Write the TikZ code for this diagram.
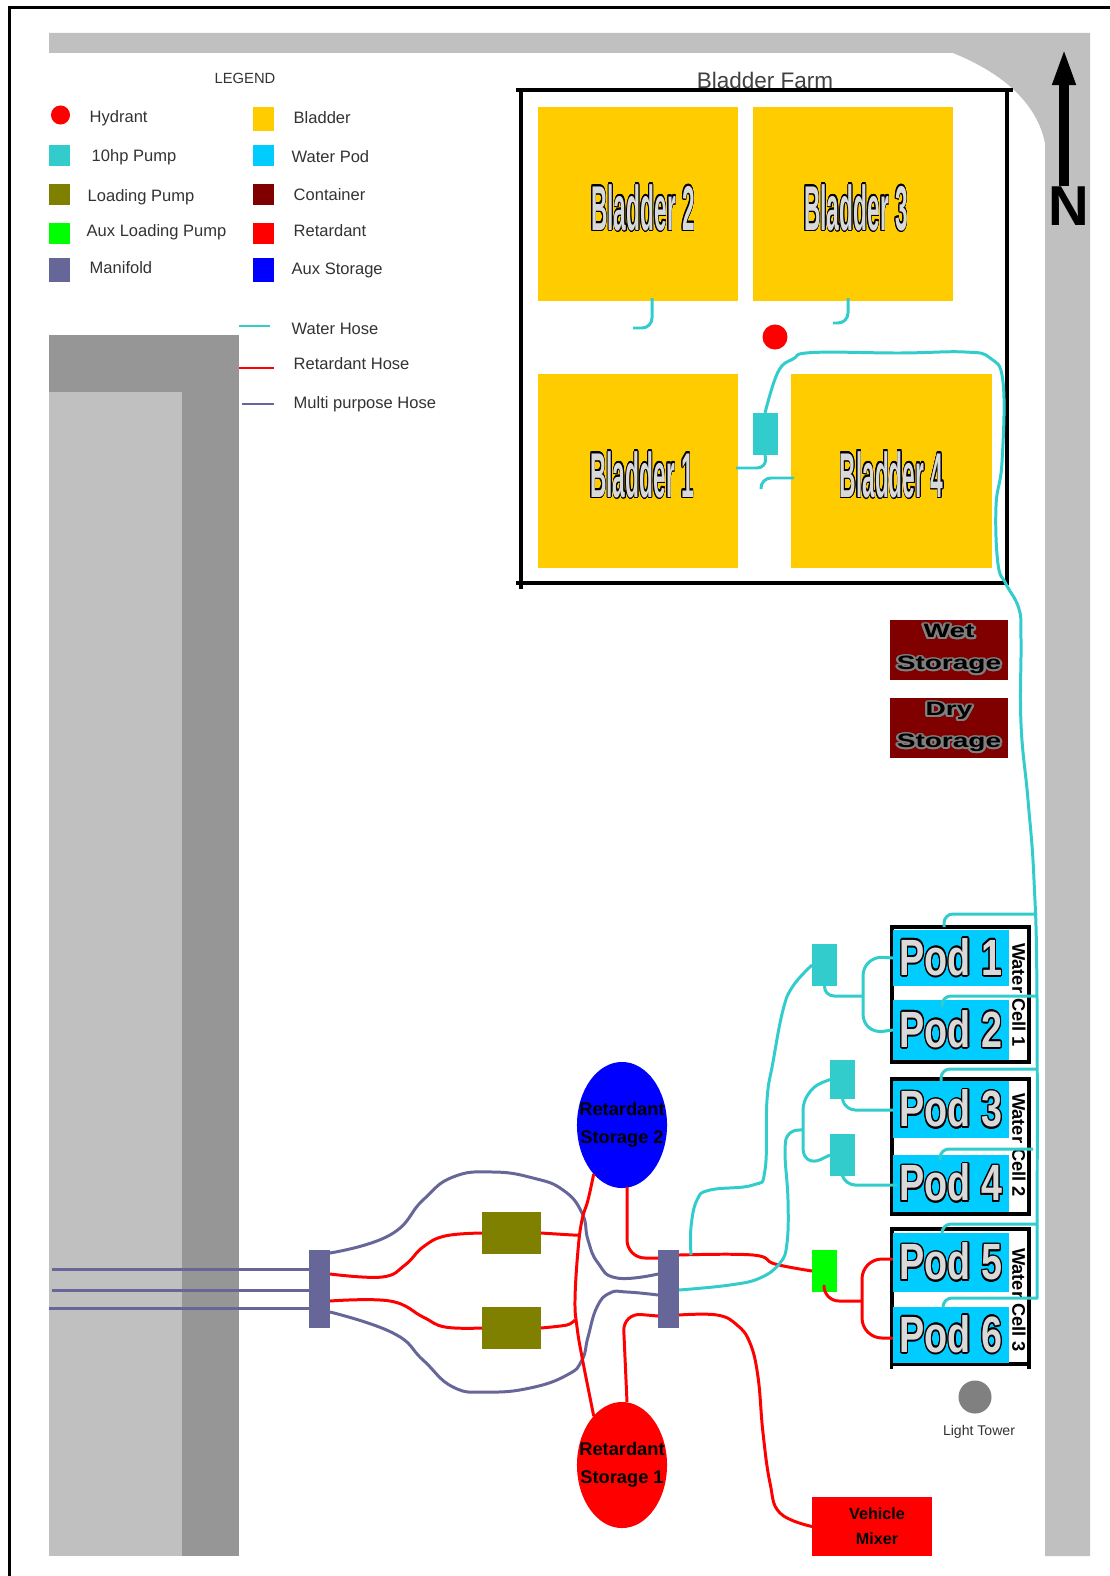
\documentclass[tikz,border=0pt]{standalone}
\usepackage{fontspec}
\setmainfont{Liberation Sans}
\usepackage[copies]{contour}
\usetikzlibrary{arrows.meta}
\usetikzlibrary{shapes.geometric}
\contourlength{0.45pt}
\contournumber{16}
\definecolor{roadgray}{HTML}{C0C0C0}
\definecolor{darkgray}{HTML}{969696}
\definecolor{pumpteal}{HTML}{33CCCC}
\definecolor{loadolive}{HTML}{808000}
\definecolor{mfold}{HTML}{666699}
\definecolor{bladderyel}{HTML}{FFCC00}
\definecolor{podsky}{HTML}{00CCFF}
\definecolor{contmaroon}{HTML}{800000}
\newcommand{\emboss}[2]{\raisebox{-.26cm}[0pt][0pt]{\scalebox{#1}[1]{\contour{black}{#2}}}}
\tikzset{
    box/.style={inner sep=0pt,outer sep=0pt,anchor=center},
    bladder/.style={box,fill=bladderyel,minimum width=2cm,minimum height=1.93cm,text=white!85!black,font=\fontsize{18}{20}\bfseries\selectfont},
    podbox/.style={box,fill=podsky,minimum width=1.16cm,text=white!85!black,font=\fontsize{14.5}{16}\bfseries\selectfont},
    cellbox/.style={box,draw=black,line width=1pt,minimum width=1.37cm,minimum height=1.35cm},
    pump/.style={box,fill=pumpteal,minimum width=.25cm,minimum height=.42cm},
    mfoldbox/.style={box,fill=mfold,minimum width=.21cm,minimum height=.78cm},
    loader/.style={box,fill=loadolive,minimum width=.59cm,minimum height=.42cm},
    store/.style={box,fill=contmaroon,minimum width=1.18cm,minimum height=.6cm,align=center,font=\fontsize{5.5}{9}\bfseries\selectfont},
    tank/.style={ellipse,box,minimum width=.9cm,minimum height=1.26cm,align=center,font=\fontsize{5.2}{8}\bfseries\selectfont},
    legsq/.style={box,minimum width=.21cm,minimum height=.21cm},
    leglab/.style={inner sep=0pt,anchor=west,text=black!80,font=\fontsize{4.7}{6}\selectfont},
    celllab/.style={inner sep=0pt,rotate=-90,font=\fontsize{5.2}{6}\bfseries\selectfont},
    waterhose/.style={draw=pumpteal,line width=.85pt,line join=round},
    rethose/.style={draw=red,line width=.85pt,line join=round},
    mphose/.style={draw=mfold,line width=.85pt,line join=round},
    frameline/.style={draw=black,line width=1pt},
}
\begin{document}
\begin{tikzpicture}[x=0.01cm,y=-0.01cm]
\useasboundingbox (0,0) rectangle (1110,1576);
\fill[white] (0,0) rectangle (1110,1576);
\draw[line width=.9pt] (9.5,1576) -- (9.5,7.5) -- (1110,7.5);

% road and building
\fill[roadgray] (49,33) -- (1090,33) -- (1090,1556) -- (1045,1556) -- (1045,143)
    .. controls (1035,95) and (990,68) .. (953,53) -- (49,53) -- cycle;
\fill[darkgray] (49,335) rectangle (239,1556);
\fill[roadgray] (49,392) rectangle (182,1556);

% legend
\node[leglab,anchor=center,font=\fontsize{4.2}{5}\selectfont] (LegTitle) at (245,78) {LEGEND};
\node[circle,fill=red,box,minimum size=.19cm] (LegHyd) at (60.5,115) {};
\node[leglab] (LabHyd) at (89,118) {Hydrant};
\foreach \n/\col/\hh/\y/\tx/\ly/\t in {Pump/pumpteal/.21cm/155.5/91/157/10hp Pump,Load/loadolive/.21cm/194.5/87/197/Loading Pump,Aux/green/.21cm/233.5/86/232/Aux Loading Pump,Man/mfold/.24cm/270/89/268/Manifold}{
    \node[legsq,fill=\col,minimum height=\hh] (Leg\n) at (59.5,\y) {};
    \node[leglab] (Lab\n) at (\tx,\ly) {\t};
}
\foreach \n/\col/\hh/\y/\tx/\ly/\t in {Bla/bladderyel/.24cm/119/293/118/Bladder,Pod/podsky/.21cm/155.5/291/157/Water Pod,Con/contmaroon/.21cm/194.5/293/195/Container,Ret/red/.21cm/233.5/293/231/Retardant,Sto/blue/.24cm/270/291/270/Aux Storage}{
    \node[legsq,fill=\col,minimum height=\hh] (Leg\n) at (263.5,\y) {};
    \node[leglab] (Lab\n) at (\tx,\ly) {\t};
}
\node[leglab] (LabWH) at (291,329) {Water Hose};
\node[leglab] (LabRH) at (293,364) {Retardant Hose};
\node[leglab] (LabMH) at (293,404) {Multi purpose Hose};
\coordinate (KeyW) at (239,326);
\coordinate (KeyR) at (239,368);
\coordinate (KeyM) at (242,404);
\draw[waterhose] (KeyW) -- (270,326);
\draw[rethose] (KeyR) -- (274,368);
\draw[mphose] (KeyM) -- (274,404);

% north arrow
\node[box,font=\fontsize{16}{16}\bfseries\selectfont] (North) at (1069,206) {N};
\coordinate (NTip) at (1064,48);
\coordinate (NTail) at (1064,186);
\draw[-{Triangle[length=.37cm,width=.21cm]},line width=.1cm] (NTail) -- (NTip);

% bladder farm
\node[inner sep=0pt,text=black!75,font=\fontsize{6.4}{7}\selectfont] (FarmLab) at (765,80) {Bladder Farm};
\draw[frameline] (516,90) -- (1013,90) (1007,90) -- (1007,583) -- (516,583) (521,90) -- (521,589);
\node[bladder] (B2) at (638,204) {\hspace*{.1cm}\emboss{.36}{Bladder 2}};
\node[bladder] (B3) at (853,204) {\hspace*{.06cm}\emboss{.36}{Bladder 3}};
\node[bladder] (B1) at (638,471) {\hspace*{.08cm}\emboss{.36}{Bladder 1}};
\node[bladder,minimum width=2.01cm] (B4) at (891.5,471) {\emboss{.36}{Bladder 4}};
\node[circle,fill=red,box,minimum size=.25cm] (Hyd) at (775,337) {};
\node[pump] (FarmPump) at (765,434) {};

% storage containers
\node[store] (Wet) at (949,650) {\scalebox{1.45}[1]{\contour{gray}{Wet}}\\\scalebox{1.45}[1]{\contour{gray}{Storage}}};
\node[store] (Dry) at (949,728) {\scalebox{1.45}[1]{\contour{gray}{Dry}}\\\scalebox{1.45}[1]{\contour{gray}{Storage}}};

% water pods
\node[cellbox] (Cell1) at (960.5,994.5) {};
\node[cellbox] (Cell2) at (960.5,1146.5) {};
\node[cellbox] (Cell3) at (960.5,1296.5) {};
\draw[frameline] (891.5,1364) -- (891.5,1369) (1029,1364) -- (1029,1369);
\foreach \i/\y/\h in {1/958/.56cm,2/1030/.6cm,3/1109.5/.57cm,4/1183.5/.57cm,5/1262.5/.59cm,6/1335/.56cm}{
    \node[podbox,minimum height=\h] (Pod\i) at (951,\y) {\scalebox{.74}[1]{\contour{black}{Pod~\i}}};
}
\node[celllab] (CellLab1) at (1019,995) {Water Cell 1};
\node[celllab] (CellLab2) at (1019,1145) {Water Cell 2};
\node[celllab] (CellLab3) at (1019,1300) {Water Cell 3};
\node[pump] (P1) at (824.5,965) {};
\node[pump,minimum height=.39cm] (P2) at (842.5,1079.5) {};
\node[pump] (P3) at (842.5,1155) {};
\node[pump,fill=green] (AuxP) at (824.5,1271) {};
\node[circle,fill=gray,box,minimum size=.33cm] (Tower) at (975,1397) {};
\node[inner sep=0pt,text=black!80,font=\fontsize{4}{5}\selectfont] (TowerLab) at (979,1432) {Light Tower};

% pumps and storage in the lower yard
\node[mfoldbox] (ManL) at (319.5,1289) {};
\node[mfoldbox] (ManR) at (668.5,1289) {};
\node[loader] (Load1) at (511.5,1233) {};
\node[loader] (Load2) at (511.5,1328) {};
\node[tank,fill=blue] (Tank2) at (622,1125) {\makebox[0pt]{Retardant}\\\makebox[0pt]{Storage 2}};
\node[tank,fill=red] (Tank1) at (622,1465) {\makebox[0pt]{Retardant}\\\makebox[0pt]{Storage 1}};
\node[box,fill=red,minimum width=1.2cm,minimum height=.59cm,align=center,font=\fontsize{4.6}{7}\bfseries\selectfont] (Mixer) at (872,1526.5) {\hspace*{.1cm}Vehicle\\\hspace*{.1cm}Mixer};

% ports on the manifolds
\coordinate (MLa) at (330,1253);
\coordinate (MLb) at (330,1274);
\coordinate (MLc) at (330,1301);
\coordinate (MLd) at (330,1312);
\coordinate (MRa) at (658,1274);
\coordinate (MRb) at (658,1258);
\coordinate (MRc) at (658,1295);
\coordinate (MRd) at (658,1316);
\coordinate (MRe) at (679,1255);
\coordinate (MRf) at (679,1290);
\coordinate (MRg) at (679,1315);
\coordinate (MRh) at (691,1255);

% multi purpose hoses
\coordinate (InA) at (52,1269);
\coordinate (InB) at (52,1290);
\coordinate (InC) at (49,1308);
\draw[mphose] (InA) -- (ManL.west |- InA);
\draw[mphose] (InB) -- (ManL.west |- InB);
\draw[mphose] (InC) -- (ManL.west |- InC);
\draw[mphose] plot[smooth,tension=.8] coordinates {(MLa) (390,1235) (423,1200) (453,1177) (493,1172) (533,1178) (563,1190) (582,1213) (588,1240) (598,1263) (617,1278) (MRa)};
\draw[mphose] plot[smooth,tension=.8] coordinates {(MLd) (393,1333) (423,1360) (453,1387) (487,1392) (530,1388) (567,1375) (582,1360) (588,1337) (597,1307) (610,1293) (627,1292) (MRc)};

% retardant hoses
\draw[rethose] plot[smooth,tension=.7] coordinates {(MLb) (382,1277) (405,1265) (423,1247) (445,1236) (Load1.west)};
\draw[rethose] plot[smooth,tension=.7] coordinates {(MLc) (390,1301) (423,1317) (445,1327) (Load2.west)};
\draw[rethose] plot[smooth,tension=.5] coordinates {(Load1.east) (573,1235) (580,1235)};
\draw[rethose] plot[smooth,tension=.5] coordinates {(Load2.east) (567,1325) (575,1320)};
\draw[rethose] plot[smooth,tension=.7] coordinates {(Tank2.-120) (588,1200) (582,1220) (578,1250) (575,1300) (577,1327) (582,1357) (Tank1.120)};
\draw[rethose,rounded corners=.18cm] (627,1187) -- (627,1258) -- (MRb);
\draw[rethose,rounded corners=.18cm] (627,1402) -- (623,1313) -- (MRd);
\draw[rethose] plot[smooth,tension=.7] coordinates {(MRe) (753,1255) (775,1264) (AuxP.west)};
\draw[rethose,rounded corners=.15cm] (824,1287) -- (824,1301) -- (862,1301);
\draw[rethose,rounded corners=.2cm] (Pod5.west |- 0,1259) -- (862,1259) -- (862,1338) -- (Pod6.west |- 0,1338);
\draw[rethose] plot[smooth,tension=.7] coordinates {(MRg) (717,1315) (737,1325) (750,1343) (758,1377) (763,1433) (770,1483) (780,1513) (Mixer.west)};

% water hoses, bladder farm
\draw[waterhose] plot[smooth,tension=.7] coordinates {(FarmPump.north) (778,372) (793,359) (813,352.5) (900,353) (965,352) (990,358) (1003,382) (1002,462) (996,506) (998,564) (1006,584) (1019,609) (1021,640) (1021,724) (1028,800) (1034,880) (1037,1000) (1037,1298)};
\draw[waterhose,rounded corners=.1cm] (FarmPump.south) -- (767,468) -- (736,468);
\draw[waterhose,rounded corners=.1cm] (794,478) -- (761,478) -- (761,489);
\draw[waterhose,rounded corners=.1cm] (652,298) -- (652,328) -- (633,328);
\draw[waterhose,rounded corners=.1cm] (848,298) -- (848,323) -- (833,323);

% water hoses, pods
\draw[waterhose,rounded corners=.09cm] (1037,914) -- (944,914) -- (944,927);
\draw[waterhose,rounded corners=.09cm] (1038,996) -- (942,996) -- (942,1007);
\draw[waterhose,rounded corners=.09cm] (1037,1069) -- (941,1069) -- (941,1081);
\draw[waterhose,rounded corners=.09cm] (1033,1149) -- (940,1149) -- (940,1160);
\draw[waterhose,rounded corners=.09cm] (1038,1224) -- (942,1224) -- (942,1234);
\draw[waterhose,rounded corners=.09cm] (1038,1298) -- (943,1298) -- (943,1306);
\draw[waterhose,rounded corners=.2cm] (Pod1.west) -- (863,956) -- (863,1034) -- (Pod2.west);
\draw[waterhose,rounded corners=.1cm] (P1.south) -- (824,996) -- (863,996);
\draw[waterhose] plot[smooth,tension=.7] coordinates {(MRh) (691,1227) (697,1200) (710,1190) (753,1185) (765,1170) (767,1100) (773,1062) (783,1010) (793,986) (P1.west)};
\draw[waterhose] plot[smooth,tension=.7] coordinates {(MRf) (730,1285) (760,1278) (780,1263) (787,1243) (788,1200) (785,1150) (790,1133) (803,1130)};
\draw[waterhose,rounded corners=.2cm] (P2.west) -- (803,1090) -- (803,1168) -- (P3.west);
\draw[waterhose,rounded corners=.1cm] (P2.south) -- (845,1110) -- (893,1110);
\draw[waterhose,rounded corners=.1cm] (P3.south) -- (845,1185) -- (897,1185);
\end{tikzpicture}
\end{document}
